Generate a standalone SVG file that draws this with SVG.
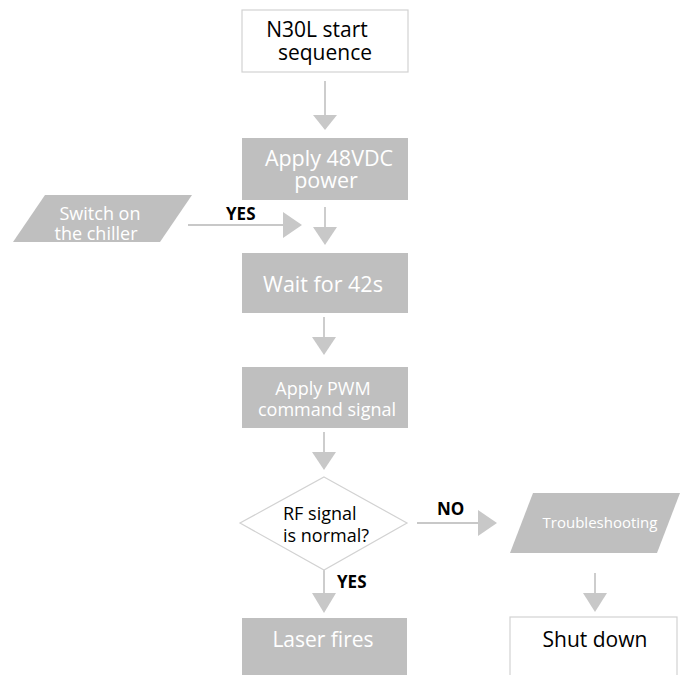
<svg xmlns="http://www.w3.org/2000/svg" width="688" height="675" viewBox="0 0 688 675">
<defs>
<style>
.g{fill:#bfbfbf;}
.w{fill:#ffffff;stroke:#d2d2d2;stroke-width:1.2;}
.ln{stroke:#c8c8c8;stroke-width:1.8;fill:none;}
.ah{fill:#c8c8c8;}
.tw{font-family:"Open Sans","Noto Sans",sans-serif;fill:#ffffff;text-anchor:middle;}
.tb{font-family:"Open Sans","Noto Sans",sans-serif;fill:#000000;text-anchor:middle;font-weight:500;}
.ts{font-family:"Open Sans","Noto Sans",sans-serif;fill:#000000;text-anchor:start;font-weight:500;}
.lb{font-family:"Open Sans","Noto Sans",sans-serif;fill:#000000;font-weight:bold;font-size:17px;}
</style>
</defs>
<rect width="688" height="675" fill="#ffffff"/>
<g id="connectors">
<line class="ln" x1="325" y1="81" x2="325" y2="116"/>
<polygon class="ah" points="313,115 337,115 325,130"/>
<line class="ln" x1="325" y1="207" x2="325" y2="228"/>
<polygon class="ah" points="313,227 337,227 325,245"/>
<line class="ln" x1="188" y1="225" x2="284" y2="225"/>
<polygon class="ah" points="283,212 283,238 302,225"/>
<text class="lb" x="226" y="220">YES</text>
<line class="ln" x1="324" y1="317" x2="324" y2="338"/>
<polygon class="ah" points="312,337 336,337 324,355"/>
<line class="ln" x1="324" y1="432" x2="324" y2="453"/>
<polygon class="ah" points="312,452 336,452 324,470"/>
<line class="ln" x1="417" y1="523" x2="479" y2="523"/>
<polygon class="ah" points="478,510 478,536 497,523"/>
<text class="lb" x="437" y="515">NO</text>
<line class="ln" x1="324" y1="570" x2="324" y2="594"/>
<polygon class="ah" points="312,593 336,593 324,613"/>
<text class="lb" x="337" y="588">YES</text>
<line class="ln" x1="595" y1="573" x2="595" y2="594"/>
<polygon class="ah" points="583,593 607,593 595,612"/>
</g>
<g id="start">
<rect class="w" x="242" y="10" width="166" height="62"/>
<text class="tb" font-size="21"><tspan x="317" y="37">N30L start</tspan><tspan x="325" y="60">sequence</tspan></text>
</g>
<g id="power">
<rect class="g" x="242" y="138" width="166" height="62"/>
<text class="tw" font-size="21.5"><tspan x="329" y="166">Apply 48VDC</tspan><tspan x="326" y="188">power</tspan></text>
</g>
<g id="chiller">
<polygon class="g" points="45,195 192,195 160,242 13,242"/>
<text class="tw" font-size="18"><tspan x="100" y="220">Switch on</tspan><tspan x="96" y="240">the chiller</tspan></text>
</g>
<g id="wait">
<rect class="g" x="242" y="253" width="166" height="60"/>
<text class="tw" font-size="21.5" x="323" y="292">Wait for 42s</text>
</g>
<g id="pwm">
<rect class="g" x="242" y="367" width="166" height="61"/>
<text class="tw" font-size="18"><tspan x="323" y="395">Apply PWM</tspan><tspan x="327" y="416">command signal</tspan></text>
</g>
<g id="decision">
<polygon class="w" points="324,477 407,523 324,570 240,523"/>
<text class="ts" font-size="18"><tspan x="283" y="520">RF signal</tspan><tspan x="283" y="542">is normal?</tspan></text>
</g>
<g id="trouble">
<polygon class="g" points="533,493 680,493 657,553 510,553"/>
<text class="tw" font-size="15" x="600" y="528">Troubleshooting</text>
</g>
<g id="laser">
<rect class="g" x="242" y="618" width="165" height="62"/>
<text class="tw" font-size="21" x="323" y="647">Laser fires</text>
</g>
<g id="shutdown">
<rect class="w" x="510" y="617" width="167" height="65"/>
<text class="tb" font-size="21" x="595" y="647">Shut down</text>
</g>
</svg>
